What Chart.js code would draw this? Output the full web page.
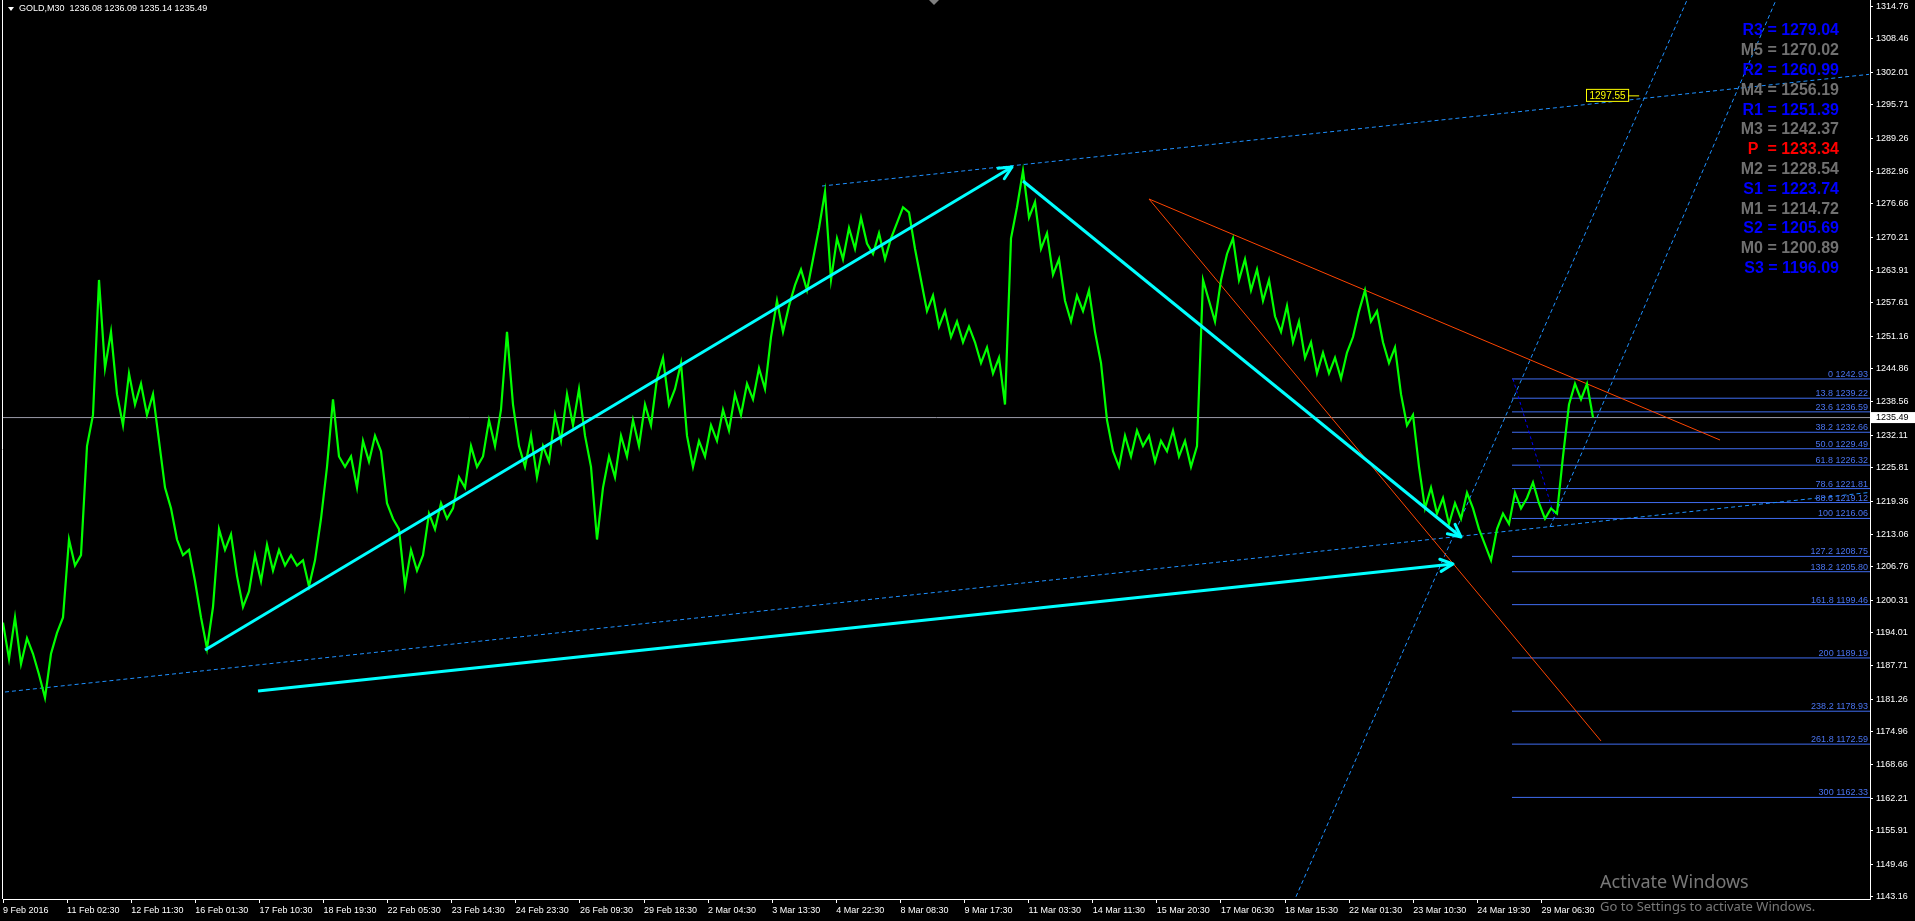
<!DOCTYPE html>
<html>
<head>
<meta charset="utf-8">
<title>GOLD,M30</title>
<script src="https://cdn.jsdelivr.net/npm/chart.js@4.4.0/dist/chart.umd.min.js"></script>
<style>
    html, body { margin: 0; padding: 0; background: #000; overflow: hidden; }
    #contenedor { position: relative; width: 1915px; height: 921px; }
</style>
</head>
<body>
<div id="contenedor"><canvas id="grafico"></canvas></div>
<script>
// ========== DATOS ==========
const cabecera = 'GOLD,M30  1236.08 1236.09 1235.14 1235.49';
const precioActual = 1235.49;

// Precio aproximado cada 6 barras M30
const pasoBarras = 6;
const precios = [
    1196, 1189, 1197, 1188, 1193, 1190, 1186, 1181.5, 1190, 1194,
    1197, 1212, 1207, 1209, 1230, 1236, 1262, 1245, 1252, 1240,
    1234, 1244, 1238, 1242, 1236, 1240, 1231, 1222, 1218, 1212,
    1209, 1210, 1204, 1197, 1191, 1199, 1214, 1210, 1213, 1205,
    1199, 1202, 1209, 1204, 1211, 1206, 1210, 1207, 1209, 1207,
    1208, 1203, 1208, 1216, 1226, 1239, 1228, 1226, 1228, 1222,
    1231, 1227, 1232, 1229, 1219, 1216, 1214, 1203, 1210, 1206,
    1209, 1217, 1214, 1219, 1216, 1218, 1224, 1222, 1230, 1226,
    1228, 1235, 1230, 1237, 1252, 1238, 1230, 1226, 1232, 1224,
    1230, 1227, 1236, 1231, 1240, 1234, 1241, 1232, 1226, 1212,
    1222, 1228, 1224, 1232, 1228, 1235, 1230, 1238, 1234, 1243,
    1247, 1238, 1241, 1246, 1232, 1226, 1231, 1228, 1234, 1231,
    1237, 1233, 1240, 1236, 1242, 1239, 1245, 1241, 1251, 1258,
    1252, 1257, 1261, 1264, 1260, 1266, 1272, 1279, 1262, 1270,
    1266, 1272, 1268, 1274, 1269, 1267, 1271, 1266, 1270, 1273,
    1276, 1275, 1268, 1262, 1256, 1259, 1253, 1256, 1251, 1254,
    1250, 1253, 1250, 1246, 1249, 1244, 1247, 1238, 1270, 1276,
    1283, 1274, 1277, 1268, 1271, 1263, 1266, 1258, 1254, 1259,
    1256, 1260, 1252, 1246, 1235, 1229, 1226, 1232, 1228, 1233,
    1230, 1232, 1227, 1231, 1229, 1233, 1228, 1231, 1226, 1230,
    1262, 1258, 1254, 1262, 1267, 1270, 1262, 1266, 1260, 1264,
    1258, 1262, 1255, 1252, 1257, 1250, 1254, 1247, 1250, 1244,
    1248, 1244, 1247, 1243, 1248, 1251, 1256, 1260, 1254, 1256,
    1250, 1246, 1249, 1240, 1234, 1236, 1226, 1218, 1222, 1217,
    1220, 1215, 1219, 1216, 1221, 1218, 1214, 1211, 1208, 1214,
    1217, 1215, 1221, 1218, 1220, 1223, 1219, 1216, 1218, 1217,
    1228, 1238, 1242, 1239, 1242, 1235.5
];

// Eje de tiempo
const etiquetasTiempo = [
    '9 Feb 2016', '11 Feb 02:30', '12 Feb 11:30', '16 Feb 01:30', '17 Feb 10:30',
    '18 Feb 19:30', '22 Feb 05:30', '23 Feb 14:30', '24 Feb 23:30', '26 Feb 09:30',
    '29 Feb 18:30', '2 Mar 04:30', '3 Mar 13:30', '4 Mar 22:30', '8 Mar 08:30',
    '9 Mar 17:30', '11 Mar 03:30', '14 Mar 11:30', '15 Mar 20:30', '17 Mar 06:30',
    '18 Mar 15:30', '22 Mar 01:30', '23 Mar 10:30', '24 Mar 19:30', '29 Mar 06:30'
];
const barrasPorEtiqueta = 64.1;
const totalBarras = 1867;

// Eje de precios
const nivelesPrecio = [
    1314.76, 1308.46, 1302.01, 1295.71, 1289.26, 1282.96, 1276.66, 1270.21,
    1263.91, 1257.61, 1251.16, 1244.86, 1238.56, 1232.11, 1225.81, 1219.36,
    1213.06, 1206.76, 1200.31, 1194.01, 1187.71, 1181.26, 1174.96, 1168.66,
    1162.21, 1155.91, 1149.46, 1143.16
];
const precioMin = 1142.76;
const precioMax = 1315.92;

// Pivotes
const pivotNombres = ['R3', 'M5', 'R2', 'M4', 'R1', 'M3', 'P ', 'M2', 'S1', 'M1', 'S2', 'M0', 'S3'];
const pivotValores = [1279.04, 1270.02, 1260.99, 1256.19, 1251.39, 1242.37, 1233.34,
    1228.54, 1223.74, 1214.72, 1205.69, 1200.89, 1196.09];

// Fibonacci
const fiboNiveles = ['0', '13.8', '23.6', '38.2', '50.0', '61.8', '78.6', '88.6',
    '100', '127.2', '138.2', '161.8', '200', '238.2', '261.8', '300'];
const fiboPrecios = [1242.93, 1239.22, 1236.59, 1232.66, 1229.49, 1226.32, 1221.81, 1219.12,
    1216.06, 1208.75, 1205.80, 1199.46, 1189.19, 1178.93, 1172.59, 1162.33];
const fiboInicio = 1509;
const fiboTendencia = [[1510, 1242.93], [1552, 1216.06]];

// Objetos dibujados (barra, precio)
const flechaSubida = [[202, 1190.72], [1009, 1283.75]];
const flechaBajada = [[1020, 1281.05], [1458, 1212.49]];
const flechaLarga = [[255, 1182.83], [1450, 1207.29]];
const canalSuperior = [[819, 1280.09], [1866, 1301.6]];
const canalInferior = [[2, 1182.63], [1866, 1221.06]];
const rayoUno = [[1293, 1143.2], [1684, 1315.9]];
const rayoDos = [[1547, 1214.41], [1773, 1315.92]];
const rojaSuperior = [[1146, 1277.59], [1717, 1231.17]];
const rojaInferior = [[1146, 1277.59], [1598, 1173.2]];
const etiquetaPrecio = [1583, 1297.55];

// ========== UTILIDADES ==========
const FUENTE = "'Liberation Sans', Arial, sans-serif";

function linea(puntos, color, ancho, guion, orden, flecha) {
    return {
        data: puntos.map(p => ({ x: p[0], y: p[1] })),
        borderColor: color,
        borderWidth: ancho,
        borderDash: guion || [],
        pointRadius: 0,
        fill: false,
        tension: 0,
        order: orden,
        flecha: !!flecha
    };
}

// ========== PLUGIN ESTILO MT4 ==========
const pluginMT4 = {
    id: 'mt4',
    beforeDraw(chart) {
        const ctx = chart.ctx;
        ctx.save();
        ctx.fillStyle = '#000000';
        ctx.fillRect(0, 0, chart.width, chart.height);
        ctx.restore();
    },
    afterDatasetsDraw(chart) {
        // Puntas de flecha de las líneas cian
        const ctx = chart.ctx;
        chart.data.datasets.forEach((ds, idx) => {
            if (!ds.flecha) return;
            const pts = chart.getDatasetMeta(idx).data;
            const a = pts[pts.length - 2];
            const b = pts[pts.length - 1];
            const ang = Math.atan2(b.y - a.y, b.x - a.x);
            ctx.save();
            ctx.strokeStyle = ds.borderColor;
            ctx.lineWidth = ds.borderWidth;
            ctx.lineCap = 'round';
            ctx.beginPath();
            [0.45, -0.45].forEach(d => {
                ctx.moveTo(b.x, b.y);
                ctx.lineTo(b.x - 14 * Math.cos(ang + d), b.y - 14 * Math.sin(ang + d));
            });
            ctx.stroke();
            ctx.restore();
        });
    },
    afterDraw(chart) {
        const ctx = chart.ctx;
        const area = chart.chartArea;
        const sx = chart.scales.x;
        const sy = chart.scales.y;
        ctx.save();

        // Borde izquierdo
        ctx.strokeStyle = '#ffffff';
        ctx.lineWidth = 1;
        ctx.beginPath();
        ctx.moveTo(area.left - 0.5, 0);
        ctx.lineTo(area.left - 0.5, area.bottom);
        ctx.stroke();

        // Cabecera
        ctx.fillStyle = '#ffffff';
        ctx.beginPath();
        ctx.moveTo(8, 7);
        ctx.lineTo(14, 7);
        ctx.lineTo(11, 11);
        ctx.closePath();
        ctx.fill();
        ctx.font = '9px ' + FUENTE;
        ctx.textBaseline = 'middle';
        ctx.textAlign = 'left';
        ctx.fillText(cabecera, 19, 9);

        // Marca de desplazamiento arriba
        ctx.fillStyle = '#808080';
        ctx.beginPath();
        ctx.moveTo(929, 0);
        ctx.lineTo(939, 0);
        ctx.lineTo(934, 5);
        ctx.closePath();
        ctx.fill();

        // Etiquetas de Fibonacci
        ctx.font = '9px ' + FUENTE;
        ctx.fillStyle = '#4a74f0';
        ctx.textAlign = 'right';
        ctx.textBaseline = 'alphabetic';
        fiboPrecios.forEach((p, i) => {
            const y = sy.getPixelForValue(p);
            ctx.fillText(fiboNiveles[i] + ' ' + p.toFixed(2), area.right - 2, y - 2);
        });

        // Pivotes
        ctx.font = 'bold 16px ' + FUENTE;
        ctx.textAlign = 'right';
        ctx.textBaseline = 'middle';
        pivotNombres.forEach((n, i) => {
            const c = n.trim();
            ctx.fillStyle = c === 'P' ? '#ff0000' : (c[0] === 'M' ? '#707070' : '#0000ff');
            ctx.fillText(n + ' = ' + pivotValores[i].toFixed(2), 1839, 31 + i * 19.8);
        });

        // Etiqueta de precio amarilla
        const ex = sx.getPixelForValue(etiquetaPrecio[0]);
        const ey = sy.getPixelForValue(etiquetaPrecio[1]);
        ctx.font = '10px ' + FUENTE;
        ctx.textAlign = 'left';
        ctx.textBaseline = 'middle';
        const ancho = ctx.measureText(etiquetaPrecio[1].toFixed(2)).width + 6;
        ctx.fillStyle = '#000000';
        ctx.fillRect(ex, ey - 6.5, ancho, 13);
        ctx.strokeStyle = '#ffff00';
        ctx.strokeRect(ex + 0.5, ey - 6, ancho, 12);
        ctx.beginPath();
        ctx.moveTo(ex + ancho, ey + 0.5);
        ctx.lineTo(ex + ancho + 11, ey + 0.5);
        ctx.stroke();
        ctx.fillStyle = '#ffff00';
        ctx.fillText(etiquetaPrecio[1].toFixed(2), ex + 3.5, ey + 0.5);

        // Precio actual en el eje
        const py = sy.getPixelForValue(precioActual);
        ctx.fillStyle = '#ffffff';
        ctx.fillRect(area.right + 1, py - 5.5, chart.width - area.right, 11);
        ctx.fillStyle = '#000000';
        ctx.font = '9px ' + FUENTE;
        ctx.fillText(precioActual.toFixed(2), area.right + 6, py);

        // Marca de agua de Windows
        ctx.fillStyle = 'rgba(160,160,160,0.75)';
        ctx.font = '18px "Noto Sans", sans-serif';
        ctx.textAlign = 'left';
        ctx.fillText('Activate Windows', 1600, 883);
        ctx.font = '13px "Noto Sans", sans-serif';
        ctx.fillText('Go to Settings to activate Windows.', 1600, 907);

        ctx.restore();
    }
};

// ========== GRÁFICO ==========
const datasets = [
    linea(flechaSubida, '#00ffff', 3, null, 0, true),
    linea(flechaBajada, '#00ffff', 3, null, 0, true),
    linea(flechaLarga, '#00ffff', 3, null, 0, true),
    {
        data: precios.map((v, i) => ({ x: i * pasoBarras, y: v })),
        borderColor: '#00ff00',
        borderWidth: 2.2,
        pointRadius: 0,
        fill: false,
        tension: 0,
        order: 1
    },
    linea(rojaSuperior, '#ff4500', 1, null, 2),
    linea(rojaInferior, '#ff4500', 1, null, 2),
    linea(canalSuperior, '#1e90ff', 1, [4, 3], 3),
    linea(canalInferior, '#1e90ff', 1, [4, 3], 3),
    linea(rayoUno, '#1e90ff', 1, [4, 3], 3),
    linea(rayoDos, '#1e90ff', 1, [4, 3], 3),
    linea(fiboTendencia, '#0000ff', 1, [3, 3], 3),
    linea([[0, precioActual], [totalBarras, precioActual]], '#9a9aa8', 1, null, 4)
];
fiboPrecios.forEach(p => {
    datasets.push(linea([[fiboInicio, p], [totalBarras, p]], '#3f6cf0', 1, null, 4));
});

new Chart(document.getElementById('grafico'), {
    type: 'line',
    data: { datasets: datasets },
    options: {
        responsive: true,
        maintainAspectRatio: false,
        animation: false,
        events: [],
        layout: { padding: { left: 3, top: 0, right: 0, bottom: 0 } },
        plugins: {
            legend: { display: false },
            tooltip: { enabled: false }
        },
        scales: {
            x: {
                type: 'linear',
                min: 0,
                max: totalBarras,
                afterBuildTicks: s => {
                    s.ticks = etiquetasTiempo.map((t, k) => ({ value: k * barrasPorEtiqueta }));
                },
                afterFit: s => {
                    s.height = 22;
                    s.paddingLeft = 0;
                    s.paddingRight = 0;
                },
                grid: { drawOnChartArea: false, tickLength: 4, color: '#ffffff' },
                border: { display: true, color: '#ffffff' },
                ticks: {
                    color: '#ffffff',
                    font: { family: FUENTE, size: 9 },
                    align: 'start',
                    autoSkip: false,
                    maxRotation: 0,
                    minRotation: 0,
                    padding: 2,
                    callback: (v, i) => etiquetasTiempo[i]
                }
            },
            y: {
                position: 'right',
                min: precioMin,
                max: precioMax,
                afterBuildTicks: s => {
                    s.ticks = nivelesPrecio.map(v => ({ value: v }));
                },
                afterFit: s => {
                    s.width = 45;
                    s.paddingTop = 0;
                    s.paddingBottom = 0;
                },
                grid: { drawOnChartArea: false, tickLength: 3, color: '#ffffff' },
                border: { display: true, color: '#ffffff' },
                ticks: {
                    color: '#ffffff',
                    font: { family: FUENTE, size: 9 },
                    padding: 3,
                    callback: v => Number(v).toFixed(2)
                }
            }
        }
    },
    plugins: [pluginMT4]
});
</script>
</body>
</html>
